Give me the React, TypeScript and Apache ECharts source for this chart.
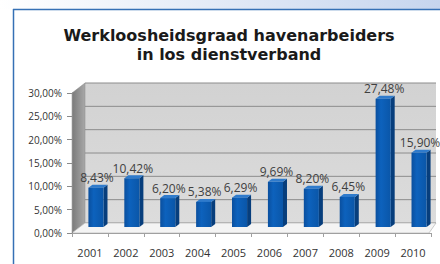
import React, { useEffect, useRef } from "react";
import * as echarts from "echarts";

const years = ["2001", "2002", "2003", "2004", "2005", "2006", "2007", "2008", "2009", "2010"];
const rates = [8.43, 10.42, 6.2, 5.38, 6.29, 9.69, 8.2, 6.45, 27.48, 15.9];
const yTicks = [0, 5, 10, 15, 20, 25, 30];
const titleLines = ["Werkloosheidsgraad havenarbeiders", "in los dienstverband"];

const fmt = (v: number) => v.toFixed(2).replace(".", ",") + "%";

const DX = 13;
const DY = -10;
const BX = 6;
const BY = -6;

export default function App() {
  const ref = useRef<HTMLDivElement>(null);
  useEffect(() => {
    if (!ref.current) return;
    const chart = echarts.init(ref.current, null, { renderer: "svg" });
    const option: any = {
      animation: false,
      backgroundColor: "#ffffff",
      graphic: [
        {
          type: "rect",
          shape: { x: 0, y: 0, width: 440, height: 9 },
          style: {
            fill: new echarts.graphic.LinearGradient(0, 0, 1, 0, [
              { offset: 0, color: "#ffffff" },
              { offset: 1, color: "#c6d5ee" },
            ]),
          },
          z: 0,
        },
        {
          type: "line",
          shape: { x1: 13, y1: 9.5, x2: 440, y2: 9.5 },
          style: { stroke: "#3570b5", lineWidth: 1.5 },
        },
        {
          type: "line",
          shape: { x1: 13.5, y1: 9, x2: 13.5, y2: 264 },
          style: { stroke: "#3570b5", lineWidth: 1.5 },
        },
        {
          type: "text",
          x: 229,
          y: 26,
          style: {
            text: titleLines.join("\n"),
            font: "bold 16px 'DejaVu Sans'",
            fill: "#1a1a1a",
            align: "center",
            verticalAlign: "top",
            lineHeight: 19,
          },
        },
      ],
      grid: { left: 72, right: 9, top: 93, bottom: 31 },
      xAxis: {
        type: "category",
        data: years,
        axisLine: { show: true, lineStyle: { color: "#a0a0a0" } },
        axisTick: { show: true, length: 4, lineStyle: { color: "#a0a0a0" } },
        axisLabel: { color: "#333333", fontSize: 11, fontFamily: "Open Sans", margin: 14 },
        z: 5,
      },
      yAxis: {
        type: "value",
        min: 0,
        max: 30,
        interval: 5,
        axisLine: { show: true, lineStyle: { color: "#8a8a8a" } },
        axisTick: { show: true, length: 5, lineStyle: { color: "#8a8a8a" } },
        axisLabel: {
          color: "#333333",
          fontSize: 10,
          fontFamily: "Open Sans",
          margin: 10,
          formatter: (v: number) => fmt(v),
        },
        splitLine: { show: false },
        z: 5,
      },
      series: [
        {
          type: "custom",
          clip: false,
          silent: true,
          z: 1,
          data: [0],
          renderItem: (params: any, api: any) => {
            const cs = params.coordSys;
            const left = cs.x;
            const right = cs.x + cs.width;
            const y0 = api.coord([0, 0])[1];
            const yTop = api.coord([0, yTicks[yTicks.length - 1]])[1];
            const wallRight = 436;
            const children: any[] = [];
            children.push({
              type: "rect",
              shape: { x: left + DX, y: yTop + DY, width: wallRight - left - DX, height: y0 - yTop },
              style: {
                fill: new echarts.graphic.LinearGradient(0, 0, 0, 1, [
                  { offset: 0, color: "#d2d2d2" },
                  { offset: 1, color: "#dcdcdc" },
                ]),
              },
            });
            yTicks.forEach((t) => {
              const y = api.coord([0, t])[1] + DY;
              children.push({
                type: "line",
                shape: { x1: left + DX, y1: y, x2: wallRight, y2: y },
                style: { stroke: "#8c8c8c", lineWidth: 1 },
              });
            });
            children.push({
              type: "polygon",
              shape: {
                points: [
                  [left, yTop],
                  [left + DX, yTop + DY],
                  [left + DX, y0 + DY],
                  [left, y0],
                ],
              },
              style: {
                fill: new echarts.graphic.LinearGradient(0, 0, 1, 0, [
                  { offset: 0, color: "#7a7a7a" },
                  { offset: 1, color: "#a8a8a8" },
                ]),
                stroke: "#8a8a8a",
                lineWidth: 0.5,
              },
            });
            children.push({
              type: "polygon",
              shape: {
                points: [
                  [left, y0],
                  [left + DX, y0 + DY],
                  [wallRight, y0 + DY],
                  [right - 2, y0],
                ],
              },
              style: { fill: "#f4f4f4", stroke: "#b8b8b8", lineWidth: 0.7 },
            });
            return { type: "group", children };
          },
        },
        {
          type: "custom",
          clip: false,
          z: 2,
          data: rates.map((v, i) => [i, v]),
          renderItem: (params: any, api: any) => {
            const idx = api.value(0);
            const val = api.value(1);
            const top = api.coord([idx, val]);
            const base = api.coord([idx, 0]);
            const w = api.size([1, 0])[0] * 0.42;
            const d = 4;
            const dd = 3;
            const x = top[0] + BX - w / 2;
            const yt = top[1] + BY;
            const yb = base[1] + BY;
            return {
              type: "group",
              children: [
                {
                  type: "polygon",
                  shape: {
                    points: [
                      [x + w, yt],
                      [x + w + d, yt - dd],
                      [x + w + d, yb - dd],
                      [x + w, yb],
                    ],
                  },
                  style: { fill: "#073e7c" },
                },
                {
                  type: "polygon",
                  shape: {
                    points: [
                      [x, yt],
                      [x + d, yt - dd],
                      [x + w + d, yt - dd],
                      [x + w, yt],
                    ],
                  },
                  style: { fill: "#2f7bcc" },
                },
                {
                  type: "rect",
                  shape: { x, y: yt, width: w, height: yb - yt },
                  style: {
                    fill: new echarts.graphic.LinearGradient(0, 0, 1, 0, [
                      { offset: 0, color: "#0a4f9e" },
                      { offset: 0.35, color: "#0d62bd" },
                      { offset: 1, color: "#0a56a8" },
                    ]),
                  },
                },
                {
                  type: "text",
                  x: x + w / 2 + 1,
                  y: yt - 4,
                  style: {
                    text: fmt(val),
                    font: "12px 'Open Sans'",
                    fill: "#404040",
                    align: "center",
                    verticalAlign: "bottom",
                  },
                },
              ],
            };
          },
        },
      ],
    };
    chart.setOption(option);
    return () => chart.dispose();
  }, []);
  return (
    <div
      ref={ref}
      style={{ position: "fixed", left: 0, top: 0, width: 440, height: 264 }}
    />
  );
}
